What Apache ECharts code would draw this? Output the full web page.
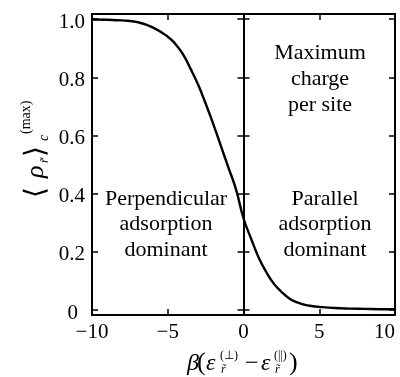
<!DOCTYPE html>
<html><head><meta charset="utf-8">
<script src="https://cdn.jsdelivr.net/npm/echarts@6/dist/echarts.min.js"></script>
<style>html,body{margin:0;padding:0;background:#fff}#c{width:400px;height:377px}</style>
</head><body><div id="c"></div>
<script>
const xs = [-10,-9,-8,-7,-6,-5,-4.5,-4,-3.5,-3,-2.5,-2,-1.5,-1,-0.5,0,0.5,1,1.5,2,2.5,3,3.5,4,4.5,5,6,7,8,9,10];
const ys = [0.999,0.998,0.996,0.99,0.972,0.94,0.915,0.88,0.83,0.775,0.71,0.64,0.565,0.49,0.415,0.315,0.245,0.18,0.13,0.09,0.062,0.04,0.026,0.018,0.013,0.01,0.006,0.004,0.003,0.002,0.002];
const xTicks = [-10,-5,0,5,10];
const yTicks = [0,0.2,0.4,0.6,0.8,1.0];
const perpText = ['Perpendicular','adsorption','dominant'];
const paraText = ['Parallel','adsorption','dominant'];
const maxText = ['Maximum','charge','per site'];

const FF = '"Liberation Serif", "Times New Roman", serif';
const chart = echarts.init(document.getElementById('c'));
const line = {lineStyle:{color:'#000',width:2}};
const tickIn = {inside:true,length:6,lineStyle:{color:'#000',width:1.5},customValues:yTicks};

function yAx(extra){
  return Object.assign({type:'value',min:-0.018,max:1.018,splitLine:{show:false},
    axisLine:Object.assign({show:true,onZero:false},line),axisTick:tickIn,axisLabel:{show:false}},extra);
}
function xAx(extra){
  return Object.assign({type:'value',min:-10,max:10,interval:5,splitLine:{show:false},
    axisLine:Object.assign({show:true,onZero:false},line),
    axisTick:{inside:true,length:6,lineStyle:{color:'#000',width:1.5},customValues:xTicks},axisLabel:{show:false}},extra);
}
const txt = (t,x,y,size,style,align) => ({type:'text',x:x,y:y,style:{text:t,fill:'#000',
  font:(style||'normal')+' '+size+'px '+FF,align:align||'left',verticalAlign:'middle'}});

const blockLines = [];
perpText.forEach((t,i)=>blockLines.push(txt(t,166,199+i*25.5,22,'normal','center')));
paraText.forEach((t,i)=>blockLines.push(txt(t,325,199+i*25.5,22,'normal','center')));
maxText.forEach((t,i)=>blockLines.push(txt(t,320,53+i*26,22,'normal','center')));

chart.setOption({
  animation:false,
  backgroundColor:'#fff',
  grid:{left:92,right:5,top:14,bottom:62,containLabel:false},
  xAxis:[
    xAx({position:'bottom',axisLabel:{show:true,color:'#000',fontFamily:FF,fontSize:21,margin:7,
      alignMaxLabel:'right',
      formatter:v=>v<0?'\u2212'+Math.abs(v):String(v)}}),
    xAx({position:'top'})
  ],
  yAxis:[
    yAx({position:'left',axisLabel:{show:true,customValues:yTicks,color:'#000',fontFamily:FF,fontSize:21,margin:7,
      formatter:v=>v===0?'{z|0}':'{n|'+v.toFixed(1)+'}',
      rich:{z:{fontFamily:FF,fontSize:21,color:'#000',padding:[7,7,0,0]},
            n:{fontFamily:FF,fontSize:21,color:'#000',padding:[6,0,0,0]}}}}),
    yAx({position:'right'}),
    yAx({position:'left',offset:-151.5,axisTick:Object.assign({},tickIn,{inside:false})}),
    yAx({position:'right',offset:-151.5,axisTick:Object.assign({},tickIn,{inside:false})})
  ],
  series:[{type:'line',xAxisIndex:0,yAxisIndex:0,data:xs.map((x,i)=>[x,ys[i]]),
    smooth:true,showSymbol:false,lineStyle:{color:'#000',width:2.4}}],
  graphic:[
    {type:'group',x:44,y:197,rotation:Math.PI/2,children:[
      txt('\u27E8',-1,-7,28),
      txt('\u03C1',19,-8,26,'italic'),
      txt('r\u0303',34,1,13,'italic'),
      txt('\u27E9',40,-7,28),
      txt('c',56,0,14,'italic'),
      txt('(max)',63,-18,14)
    ]},
    {type:'group',children:[
      txt('\u03B2',187,364,24,'italic'),
      txt('(',197,363,26),
      txt('\u03B5',206,364,24,'italic'),
      txt('(\u22A5)',220,356,12),
      txt('r\u0303',221,370,12,'italic'),
      txt('\u2212',245,364,24),
      txt('\u03B5',261,364,24,'italic'),
      txt('(||)',274,356,12),
      txt('r\u0303',275,370,12,'italic'),
      txt(')',289,363,26)
    ]},
    {type:'group',children:blockLines}
  ]
});
</script></body></html>
